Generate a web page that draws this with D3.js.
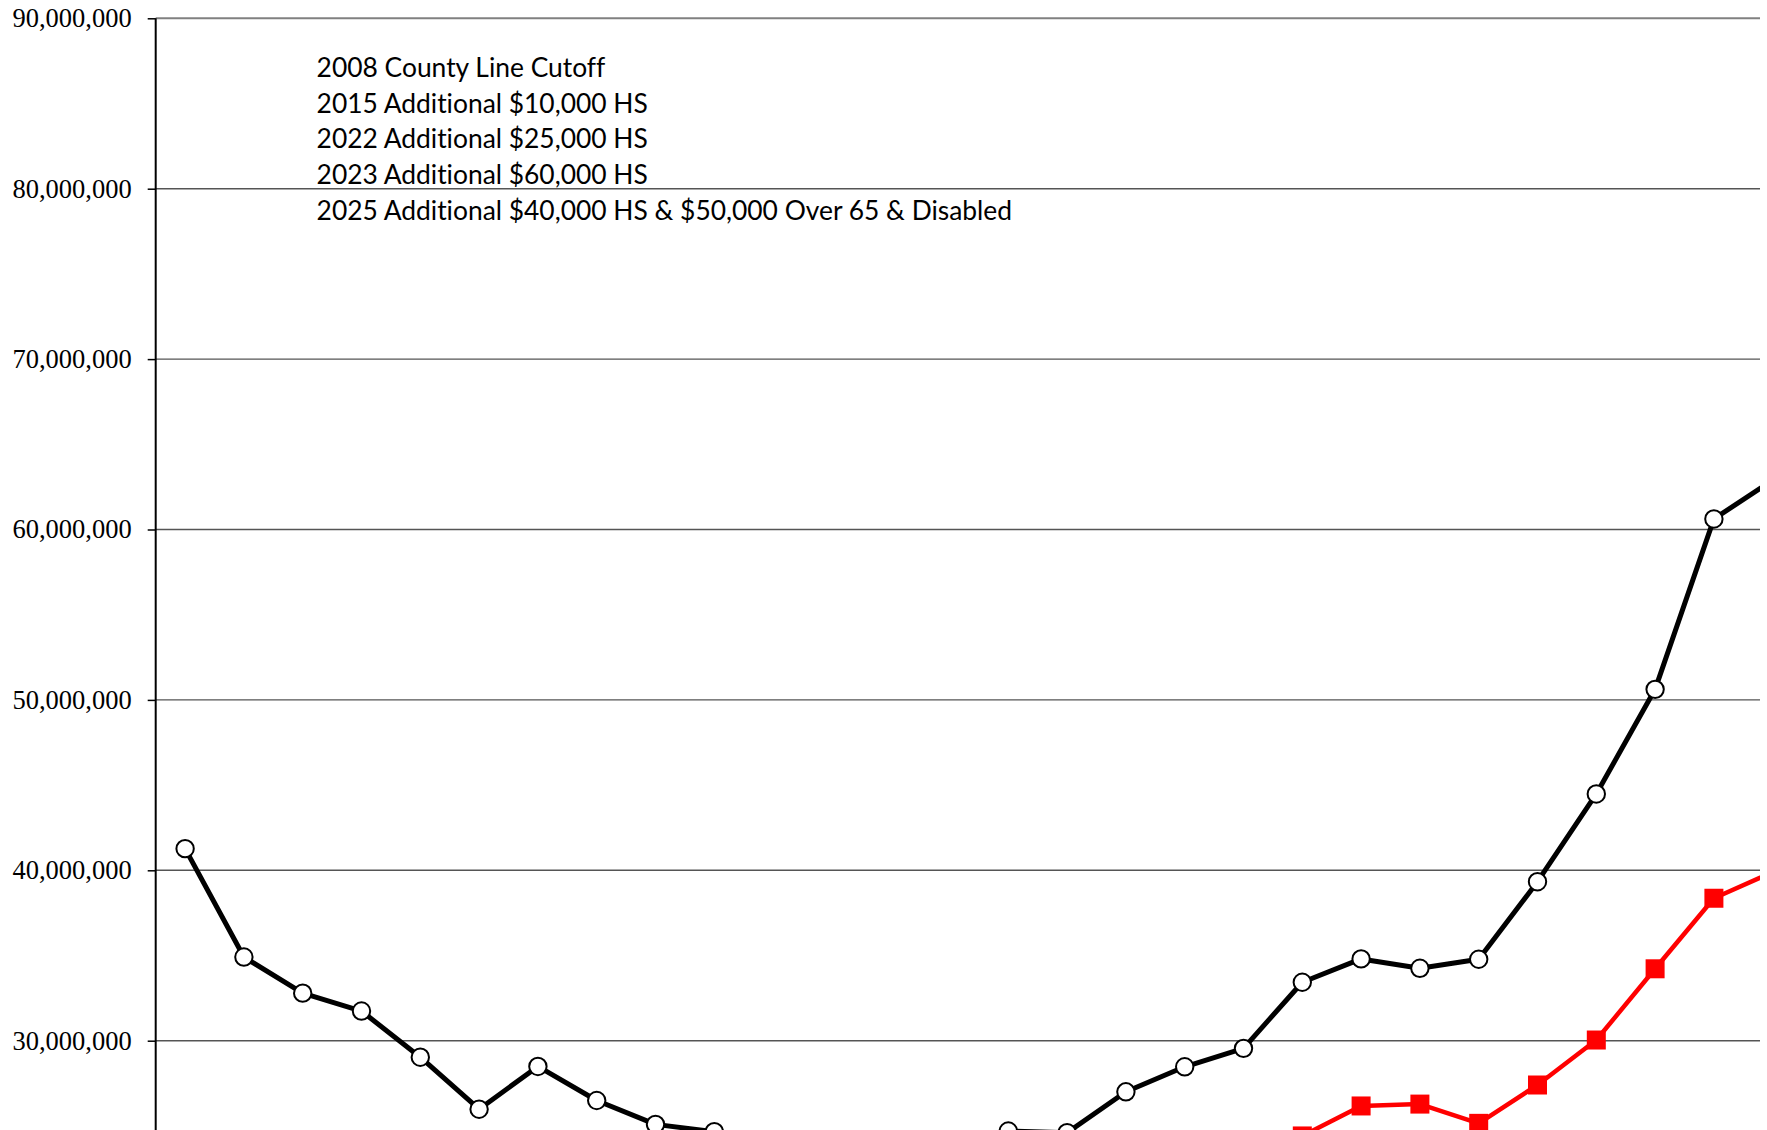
<!DOCTYPE html>
<html>
<head>
<meta charset="utf-8">
<script src="https://cdn.jsdelivr.net/npm/d3@7"></script>
<style>
  html, body { margin: 0; padding: 0; background: #fff; overflow: hidden; }
</style>
</head>
<body>
<div id="chart"></div>
<script>
// Data
const years = d3.range(1998, 2026)

const totalValues = [
  41.27, 34.91, 32.79, 31.74, 29.03, 25.98, 28.49, 26.49, 25.09, 24.66,
  23.9, 23.5, 23.6, 24.1, 24.7, 24.6, 27.0, 28.47, 29.55, 33.43,
  34.8, 34.25, 34.78, 39.33, 44.48, 50.62, 60.62, 62.9
].map(v => v * 1e6)

const netValues = [
  null, null, null, null, null, null, null, null, null, null,
  null, null, null, null, null, null, null, null, null, 24.41,
  26.17, 26.28, 25.15, 27.4, 30.04, 34.22, 38.36, 39.9
].map(v => v == null ? null : v * 1e6)

const yTicks = [30, 40, 50, 60, 70, 80, 90].map(v => v * 1e6)

const notes = [
  '2008 County Line Cutoff',
  '2015 Additional $10,000 HS',
  '2022 Additional $25,000 HS',
  '2023 Additional $60,000 HS',
  '2025 Additional $40,000 HS & $50,000 Over 65 & Disabled'
]

function draw() {
  let dimensions = {
    width: 1767,
    height: 1130,
    left: 155.7,
    right: 1760,
    top: 18.3,
    step: 58.8,
    unit: 170.4 // px per 10M
  }

  const svg = d3.select('#chart')
    .append('svg')
    .attr('width', dimensions.width)
    .attr('height', dimensions.height)

  // Scales
  const xScale = d3.scaleBand()
    .domain(years)
    .range([dimensions.left, dimensions.left + years.length * dimensions.step])

  const yScale = d3.scaleLinear()
    .domain([0, 90e6])
    .range([dimensions.top + 9 * dimensions.unit, dimensions.top])

  const xPos = i => xScale(years[i]) + xScale.bandwidth() / 2

  svg.append('defs')
    .append('clipPath')
    .attr('id', 'plot-clip')
    .append('rect')
    .attr('x', dimensions.left)
    .attr('y', 0)
    .attr('width', dimensions.right - dimensions.left)
    .attr('height', dimensions.height)

  // Grid
  svg.append('g')
    .selectAll('line')
    .data(yTicks)
    .join('line')
    .attr('x1', dimensions.left)
    .attr('x2', dimensions.right)
    .attr('y1', d => yScale(d))
    .attr('y2', d => yScale(d))
    .attr('stroke', d => d === 90e6 ? '#808080' : '#555')
    .attr('stroke-width', d => d === 90e6 ? 2 : 1.4)

  // Axis
  const yAxis = d3.axisLeft(yScale)
    .tickValues(yTicks)
    .tickFormat(d3.format(','))
    .tickSize(8)
    .tickPadding(16)

  const axisG = svg.append('g')
    .attr('transform', `translate(${dimensions.left}, 0)`)
    .call(yAxis)

  axisG.select('.domain')
    .attr('d', `M0,${yScale(90e6)}V${dimensions.height + 10}`)
    .attr('stroke', '#000')
    .attr('stroke-width', 2)

  axisG.selectAll('.tick line')
    .attr('stroke', '#000')
    .attr('stroke-width', 1.5)

  axisG.selectAll('.tick text')
    .attr('font-family', '"Liberation Serif", "Times New Roman", serif')
    .attr('font-size', 26.5)
    .attr('fill', '#000')

  // Lines
  const plot = svg.append('g')
    .attr('clip-path', 'url(#plot-clip)')

  const lineGen = d3.line()
    .defined(d => d != null)
    .x((d, i) => xPos(i))
    .y(d => yScale(d))

  plot.append('path')
    .datum(totalValues)
    .attr('d', lineGen)
    .attr('fill', 'none')
    .attr('stroke', '#000')
    .attr('stroke-width', 5)
    .attr('stroke-linejoin', 'round')

  plot.append('path')
    .datum(netValues)
    .attr('d', lineGen)
    .attr('fill', 'none')
    .attr('stroke', '#ff0000')
    .attr('stroke-width', 4.5)
    .attr('stroke-linejoin', 'round')

  // Markers
  plot.append('g')
    .selectAll('circle')
    .data(totalValues)
    .join('circle')
    .attr('cx', (d, i) => xPos(i))
    .attr('cy', d => yScale(d))
    .attr('r', 8.7)
    .attr('fill', '#fff')
    .attr('stroke', '#000')
    .attr('stroke-width', 2)

  const side = 19
  plot.append('g')
    .selectAll('rect')
    .data(netValues.map((v, i) => ({ v, i })).filter(d => d.v != null))
    .join('rect')
    .attr('x', d => xPos(d.i) - side / 2)
    .attr('y', d => yScale(d.v) - side / 2)
    .attr('width', side)
    .attr('height', side)
    .attr('fill', '#ff0000')

  // Notes
  svg.append('g')
    .selectAll('text')
    .data(notes)
    .join('text')
    .attr('x', 316.6)
    .attr('y', (d, i) => 76.7 + i * 35.8)
    .attr('font-family', 'Lato, "Open Sans", sans-serif')
    .attr('font-size', 26.4)
    .style('font-variant-ligatures', 'none')
    .attr('fill', '#000')
    .text(d => d)
}

draw()
</script>
</body>
</html>
